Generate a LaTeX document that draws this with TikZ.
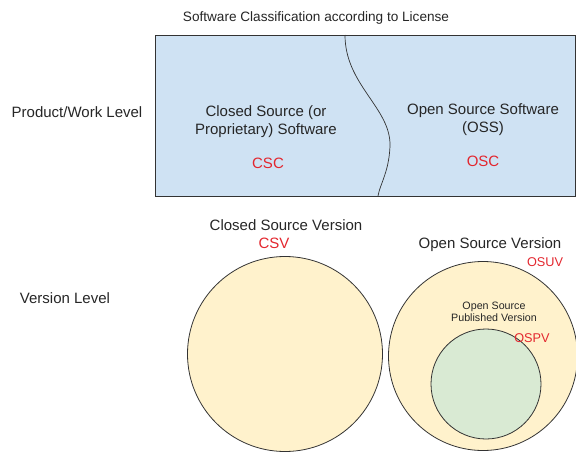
\documentclass[tikz,border=0pt]{standalone}
\usepackage{fontspec}
\setmainfont{Liberation Sans}
\usepackage{xcolor}
\usetikzlibrary{positioning}

\definecolor{boxblue}{HTML}{CFE2F3}
\definecolor{setyellow}{HTML}{FFF2CC}
\definecolor{setgreen}{HTML}{D9EAD3}
\definecolor{tagred}{HTML}{E3262E}
\definecolor{edgegray}{HTML}{333333}

\begin{document}
\begin{tikzpicture}[x=1pt, y=-1pt,
        heading/.style={font=\fontsize{13.6}{16}\selectfont, text=black!85},
        label/.style={font=\fontsize{15}{18}\selectfont, text=black!85, align=center, inner sep=0pt},
        small/.style={font=\fontsize{10.7}{12.5}\selectfont, text=black!85, align=center, inner sep=0pt},
        tag/.style={font=\fontsize{15}{18}\selectfont, text=tagred, inner sep=0pt},
        smalltag/.style={font=\fontsize{12.7}{15}\selectfont, text=tagred, inner sep=0pt},
        licensebox/.style={rectangle, draw=edgegray, fill=boxblue, line width=0.8pt, inner sep=0pt},
        outerset/.style={circle, draw=edgegray, fill=setyellow, line width=0.8pt, inner sep=0pt},
        innerset/.style={circle, draw=edgegray, fill=setgreen, line width=0.8pt, inner sep=0pt}
    ]
        \useasboundingbox (0,0) rectangle (576,453);

        \node[heading] (title) at (316,18) {Software Classification according to License};

        % Product level
        \node[licensebox, minimum width=420pt, minimum height=161pt, anchor=north west] (box) at (155,35) {};
        \coordinate (divtop) at (345,35);
        \coordinate (divmid) at (390,146);
        \coordinate (divbot) at (378,196);
        \draw[edgegray, line width=0.7pt] (divtop) .. controls (345,85) and (391,108) .. (divmid)
            .. controls (389,172) and (380,184) .. (divbot);

        \node[label] (levelone) at (77,112) {Product/Work Level};
        \node[label] (closed) at (266,122) {Closed Source (or\\Proprietary) Software};
        \node[tag] (csc) at (268,163) {CSC};
        \node[label] (open) at (483,120) {Open Source Software\\(OSS)};
        \node[tag] (osc) at (483,161) {OSC};

        % Version level
        \node[label] (leveltwo) at (65,298) {Version Level};
        \node[outerset, minimum size=195pt] (csv) at (285,354) {};
        \node[outerset, minimum size=189pt] (osuv) at (483,356) {};
        \node[innerset, minimum size=110pt] (ospv) at (486,384) {};

        \node[label] (csvname) at (286,225) {Closed Source Version};
        \node[tag] (csvtag) at (274,243) {CSV};
        \node[label] (osuvname) at (490,245) {Open Source Version};
        \node[smalltag] (osuvtag) at (545,262) {OSUV};
        \node[small] (ospvname) at (494,312) {Open Source\\Published Version};
        \node[smalltag] (ospvtag) at (532,338) {OSPV};
    \end{tikzpicture}
\end{document}
